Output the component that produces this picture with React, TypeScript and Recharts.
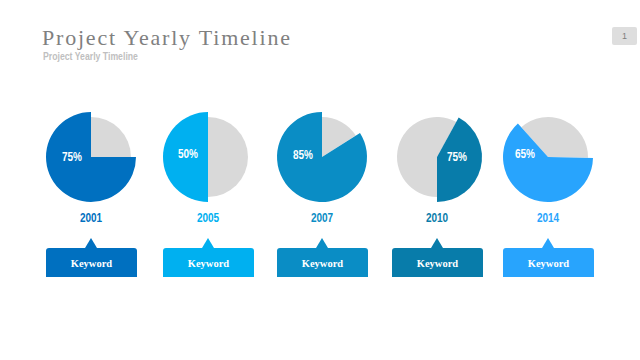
import { PieChart, Pie, Cell } from 'recharts';

// values
const years = ['2001', '2005', '2007', '2010', '2014'];
const percentLabels = ['75%', '50%', '85%', '75%', '65%'];
const drawnShares = [75, 50, 84, 42, 63]; // share of the coloured slice as drawn
const keywords = ['Keyword', 'Keyword', 'Keyword', 'Keyword', 'Keyword'];

const colors = ['#0070C0', '#00B0F0', '#0A8DC5', '#087CAA', '#28A4FD'];
const GRAY = '#D9D9D9';

// layout
const centersX = [91, 208, 322, 437, 548];
const CY = 157;
const startAngles = [90, 90, 90, -90, 132];
const labelOffsets = [[-19, 0], [-20, -3], [-19, -2], [20, 0], [-23, -3]];

const narrow = {
    fontFamily: '"Liberation Sans", Arial, sans-serif',
    fontWeight: 700,
    transform: 'scaleX(0.8)',
    transformOrigin: 'center',
} as const;

export default function App() {
    return (
        <div style={{ position: 'absolute', left: 0, top: 0, width: 640, height: 360, background: '#fff', overflow: 'hidden' }}>
            <div style={{ position: 'absolute', left: 42, top: 26, fontFamily: '"Liberation Serif", serif', fontSize: 22, color: '#808080', letterSpacing: 1.8, lineHeight: '24px', whiteSpace: 'nowrap' }}>
                Project Yearly Timeline
            </div>
            <div style={{ position: 'absolute', left: 43, top: 51, fontFamily: '"Liberation Sans", sans-serif', fontWeight: 700, fontSize: 10, color: '#BFBFBF', lineHeight: '12px', whiteSpace: 'nowrap', transform: 'scaleX(0.87)', transformOrigin: 'left' }}>
                Project Yearly Timeline
            </div>
            <div style={{ position: 'absolute', left: 612, top: 27, width: 25, height: 18, borderRadius: 2, background: '#DEDEDE', color: '#7F7F7F', fontFamily: '"Liberation Sans", sans-serif', fontSize: 9, lineHeight: '18px', textAlign: 'center' }}>
                1
            </div>

            <div style={{ position: 'absolute', left: 0, top: 0 }}>
                <PieChart width={640} height={360} margin={{ top: 0, right: 0, bottom: 0, left: 0 }}>
                    {years.map((y, i) => {
                        const d = [
                            { name: 'done', value: drawnShares[i] },
                            { name: 'rest', value: 100 - drawnShares[i] },
                        ];
                        return [
                            <Pie key={`g${y}`} data={d} dataKey="value" cx={centersX[i]} cy={CY} outerRadius={40}
                                startAngle={startAngles[i]} endAngle={startAngles[i] + 360} stroke="none" isAnimationActive={false}>
                                <Cell fill="transparent" />
                                <Cell fill={GRAY} />
                            </Pie>,
                            <Pie key={`b${y}`} data={d} dataKey="value" cx={centersX[i]} cy={CY} outerRadius={45}
                                startAngle={startAngles[i]} endAngle={startAngles[i] + 360} stroke="none" isAnimationActive={false}>
                                <Cell fill={colors[i]} />
                                <Cell fill="transparent" />
                            </Pie>,
                        ];
                    })}
                </PieChart>
            </div>

            {years.map((y, i) => (
                <div key={`lbl${y}`}>
                    <div style={{ ...narrow, position: 'absolute', left: centersX[i] + labelOffsets[i][0] - 20, top: CY + labelOffsets[i][1] - 8, width: 40, textAlign: 'center', fontSize: 12.5, lineHeight: '16px', color: '#fff' }}>
                        {percentLabels[i]}
                    </div>
                    <div style={{ ...narrow, position: 'absolute', left: centersX[i] - 30, top: 210, width: 60, textAlign: 'center', fontSize: 12.5, lineHeight: '16px', color: colors[i] }}>
                        {y}
                    </div>
                    <div style={{ position: 'absolute', left: centersX[i] - 6, top: 238, width: 0, height: 0, borderLeft: '6px solid transparent', borderRight: '6px solid transparent', borderBottom: `10px solid ${colors[i]}` }} />
                    <div style={{ position: 'absolute', left: centersX[i] - 45, top: 248, width: 91, height: 29, borderRadius: '3px 3px 0 0', background: colors[i], color: '#fff', fontFamily: '"Liberation Serif", serif', fontWeight: 700, fontSize: 10.5, lineHeight: '31px', textAlign: 'center' }}>
                        {keywords[i]}
                    </div>
                </div>
            ))}
        </div>
    );
}
